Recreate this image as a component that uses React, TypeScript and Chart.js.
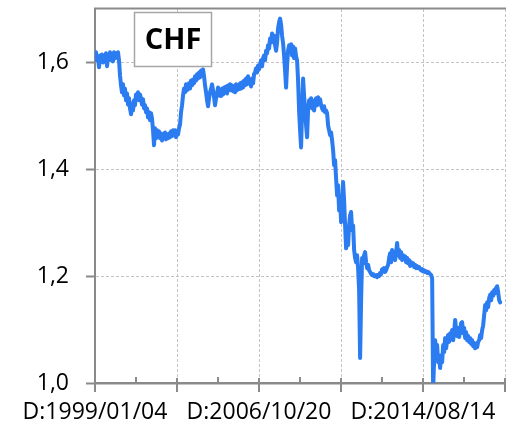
import { useEffect, useRef } from "react";
import { Chart, registerables } from "chart.js";

Chart.register(...registerables);

// ---- Text ----
const TITLE = "CHF";
const X_LABEL_POSITIONS = [0, 2000, 4000]; // trading-day index of labelled ticks
const X_LABEL_TEXTS = ["D:1999/01/04", "D:2006/10/20", "D:2014/08/14"];
const Y_TICKS = [1.0, 1.2, 1.4, 1.6];
const Y_TICK_LABELS = ["1,0", "1,2", "1,4", "1,6"];

// ---- Data: EUR/CHF sampled roughly every 12.2 trading days from 1999/01/04 ----
const SAMPLE_STEP_DAYS = 12.2;

const rates1999 = [1.608, 1.619, 1.604, 1.609, 1.591, 1.613, 1.604, 1.615, 1.6, 1.611, 1.604, 1.617, 1.593, 1.609, 1.606, 1.619, 1.604, 1.613, 1.602, 1.619, 1.608, 1.617, 1.609, 1.619, 1.604];
const rates2000to2001 = [1.576, 1.557, 1.544, 1.559, 1.538, 1.551, 1.529, 1.542, 1.521, 1.533, 1.514, 1.503, 1.523, 1.51, 1.529, 1.52, 1.54, 1.531, 1.544, 1.529, 1.54, 1.533, 1.521, 1.531, 1.514, 1.52, 1.507, 1.514, 1.497, 1.507, 1.492, 1.505, 1.495];
const rates2001to2002 = [1.473, 1.445, 1.477, 1.458, 1.473, 1.462, 1.471, 1.458, 1.467, 1.454, 1.465, 1.46, 1.469, 1.456, 1.465, 1.458, 1.467, 1.46, 1.471, 1.462, 1.473, 1.464, 1.473, 1.46, 1.471, 1.465, 1.477];
const rates2003to2004 = [1.484, 1.507, 1.52, 1.538, 1.551, 1.544, 1.559, 1.548, 1.555, 1.561, 1.551, 1.566, 1.557, 1.568, 1.561, 1.574, 1.566, 1.578, 1.57, 1.581, 1.572, 1.585, 1.578, 1.587, 1.574];
const rates2004to2005 = [1.557, 1.544, 1.529, 1.518, 1.533, 1.544, 1.551, 1.559, 1.548, 1.535, 1.52, 1.533, 1.542, 1.553, 1.538, 1.548, 1.537, 1.551, 1.54, 1.553, 1.544, 1.555, 1.542, 1.557, 1.548, 1.559];
const rates2005to2006 = [1.548, 1.557, 1.546, 1.555, 1.544, 1.559, 1.548, 1.557, 1.55, 1.561, 1.551, 1.563, 1.553, 1.566, 1.557, 1.57, 1.559, 1.574, 1.563, 1.568, 1.555, 1.57, 1.561, 1.578, 1.581, 1.589, 1.581, 1.594, 1.587];
const rates2006to2007 = [1.596, 1.604, 1.593, 1.608, 1.613, 1.604, 1.622, 1.617, 1.632, 1.626, 1.645, 1.637, 1.654, 1.641, 1.65, 1.632, 1.622, 1.637, 1.664, 1.675, 1.682, 1.671, 1.65];
const rates2007to2008 = [1.636, 1.613, 1.585, 1.553, 1.594, 1.622, 1.632, 1.619, 1.634, 1.613, 1.63, 1.608, 1.626, 1.611, 1.604, 1.566, 1.51, 1.473, 1.441, 1.51];
const rates2008to2010 = [1.57, 1.538, 1.51, 1.482, 1.46, 1.51, 1.529, 1.52, 1.533, 1.514, 1.529, 1.51, 1.525, 1.533, 1.52, 1.535, 1.529, 1.531, 1.52, 1.514, 1.51, 1.518, 1.507, 1.51, 1.505, 1.482, 1.473, 1.464, 1.469, 1.454];
const rates2010to2011 = [1.436, 1.408, 1.417, 1.383, 1.351, 1.37, 1.323, 1.342, 1.301, 1.333, 1.376, 1.342, 1.295, 1.252, 1.282, 1.258, 1.295, 1.314, 1.32, 1.286, 1.295, 1.249, 1.234, 1.226, 1.239, 1.215, 1.174, 1.047, 1.155];
const rates2011to2014 = [1.234, 1.224, 1.239, 1.245, 1.226, 1.215, 1.221, 1.211, 1.208, 1.204, 1.202, 1.204, 1.2, 1.2, 1.202, 1.198, 1.202, 1.2, 1.206, 1.204, 1.213, 1.209, 1.215, 1.208, 1.211, 1.217, 1.221, 1.234, 1.243, 1.226, 1.249, 1.234, 1.239, 1.23, 1.245, 1.262, 1.239, 1.249, 1.234, 1.245, 1.23, 1.239, 1.232, 1.237, 1.226, 1.234, 1.224, 1.23, 1.219, 1.226, 1.221, 1.224, 1.217, 1.221, 1.215, 1.219, 1.215, 1.217, 1.213, 1.211, 1.213, 1.209, 1.211, 1.208, 1.209, 1.206, 1.208, 1.206, 1.204, 1.202, 1.196];
const rates2015to2018 = [0.99, 1.043, 1.08, 1.058, 1.071, 1.039, 1.047, 1.028, 1.052, 1.039, 1.071, 1.058, 1.084, 1.065, 1.08, 1.09, 1.077, 1.093, 1.082, 1.099, 1.08, 1.095, 1.118, 1.099, 1.088, 1.103, 1.086, 1.099, 1.112, 1.114, 1.093, 1.103, 1.084, 1.095, 1.08, 1.088, 1.077, 1.084, 1.073, 1.08, 1.069, 1.075, 1.065, 1.073, 1.067, 1.077, 1.08, 1.09, 1.084, 1.099, 1.108, 1.127, 1.146, 1.136, 1.151, 1.142, 1.159, 1.165, 1.155, 1.17, 1.163, 1.174, 1.168, 1.178, 1.181, 1.17, 1.155, 1.151];

const allRates = [
  ...rates1999, ...rates2000to2001, ...rates2001to2002, ...rates2003to2004,
  ...rates2004to2005, ...rates2005to2006, ...rates2006to2007, ...rates2007to2008,
  ...rates2008to2010, ...rates2010to2011, ...rates2011to2014, ...rates2015to2018,
];

// ---- Styles ----
const LINE_COLOR = "#2b7bf1";
const AXIS_COLOR = "#8a8a8a";
const GRID_COLOR = "#c4c4c4";
const FONT_FAMILY = "'Open Sans', 'Noto Sans', sans-serif";

const framePlugin = {
  id: "frame",
  beforeDatasetsDraw(chart: any) {
    const { ctx, chartArea, scales } = chart;
    const xs = scales.x;
    ctx.save();
    ctx.strokeStyle = AXIS_COLOR;
    ctx.lineWidth = 2;
    // top border
    ctx.beginPath();
    ctx.moveTo(chartArea.left - 1, chartArea.top - 0.5);
    ctx.lineTo(chart.width, chartArea.top - 0.5);
    ctx.stroke();
    // x tick marks
    for (let v = 0; v <= 5000; v += 500) {
      const px = Math.round(xs.getPixelForValue(v));
      ctx.beginPath();
      if (v % 1000 === 0) {
        ctx.moveTo(px, chartArea.bottom - 5);
        ctx.lineTo(px, chartArea.bottom + 9);
      } else {
        ctx.moveTo(px, chartArea.bottom - 6);
        ctx.lineTo(px, chartArea.bottom);
      }
      ctx.stroke();
    }
    ctx.restore();
  },
  afterDraw(chart: any) {
    const { ctx } = chart;
    ctx.save();
    ctx.fillStyle = "#ffffff";
    ctx.strokeStyle = "#a6a6a6";
    ctx.lineWidth = 1.5;
    ctx.fillRect(134.5, 12.5, 77, 54);
    ctx.strokeRect(134.5, 12.5, 77, 54);
    ctx.fillStyle = "#000000";
    ctx.font = `bold 29px ${FONT_FAMILY}`;
    ctx.textAlign = "center";
    ctx.textBaseline = "middle";
    ctx.fillText(TITLE, 173, 41);
    ctx.restore();
  },
};

export default function App() {
  const canvasRef = useRef<HTMLCanvasElement | null>(null);

  useEffect(() => {
    const canvas = canvasRef.current;
    if (!canvas) return;
    const points = allRates.map((v, i) => ({ x: i * SAMPLE_STEP_DAYS, y: v }));
    const chart = new Chart(canvas, {
      type: "line",
      data: {
        datasets: [
          {
            data: points,
            borderColor: LINE_COLOR,
            borderWidth: 4,
            pointRadius: 0,
            tension: 0,
            fill: false,
            borderJoinStyle: "round",
            borderCapStyle: "round",
          },
        ],
      },
      options: {
        animation: false,
        responsive: false,
        maintainAspectRatio: false,
        layout: { padding: { top: 9, right: 1, left: 0, bottom: 0 } },
        plugins: {
          legend: { display: false },
          tooltip: { enabled: false },
        },
        scales: {
          x: {
            type: "linear",
            min: 0,
            max: 5000,
            afterFit: (s: any) => {
              s.height = 47;
              s.paddingLeft = 0;
              s.paddingRight = 0;
              s.paddingTop = 0;
              s.paddingBottom = 0;
            },
            grid: {
              color: (c: any) =>
                c.tick && c.tick.value % 1000 === 0 && c.tick.value !== 0 ? GRID_COLOR : "transparent",
              lineWidth: 1,
              drawTicks: false,
            },
            border: { display: true, color: AXIS_COLOR, width: 2.5, dash: [3, 2] },
            ticks: {
              stepSize: 500,
              autoSkip: false,
              maxRotation: 0,
              minRotation: 0,
              padding: 16,
              color: "#000000",
              font: { family: FONT_FAMILY, size: 23 },
              callback: (value: any) => {
                const k = X_LABEL_POSITIONS.indexOf(Number(value));
                return k >= 0 ? X_LABEL_TEXTS[k] : "";
              },
            },
          },
          y: {
            type: "linear",
            min: 1,
            max: 1.7,
            afterBuildTicks: (s: any) => {
              s.ticks = Y_TICKS.map((v) => ({ value: v }));
            },
            afterFit: (s: any) => {
              s.width = 95;
              s.paddingLeft = 0;
              s.paddingRight = 0;
              s.paddingTop = 0;
              s.paddingBottom = 0;
            },
            grid: {
              color: (c: any) => (c.tick && Math.abs(c.tick.value - 1) < 1e-9 ? "transparent" : GRID_COLOR),
              lineWidth: 1,
              drawTicks: true,
              tickLength: 9,
              tickWidth: 2,
              tickColor: AXIS_COLOR,
            },
            border: { display: true, color: AXIS_COLOR, width: 2, dash: [3, 2] },
            ticks: {
              padding: 17,
              color: "#000000",
              font: { family: FONT_FAMILY, size: 23 },
              callback: (_v: any, i: number) => Y_TICK_LABELS[i],
            },
          },
        },
      },
      plugins: [framePlugin],
    } as any);
    return () => chart.destroy();
  }, []);

  return (
    <div style={{ position: "absolute", left: 0, top: 0, width: 506, height: 430 }}>
      <canvas ref={canvasRef} width={506} height={430} style={{ width: 506, height: 430, display: "block" }} />
    </div>
  );
}
